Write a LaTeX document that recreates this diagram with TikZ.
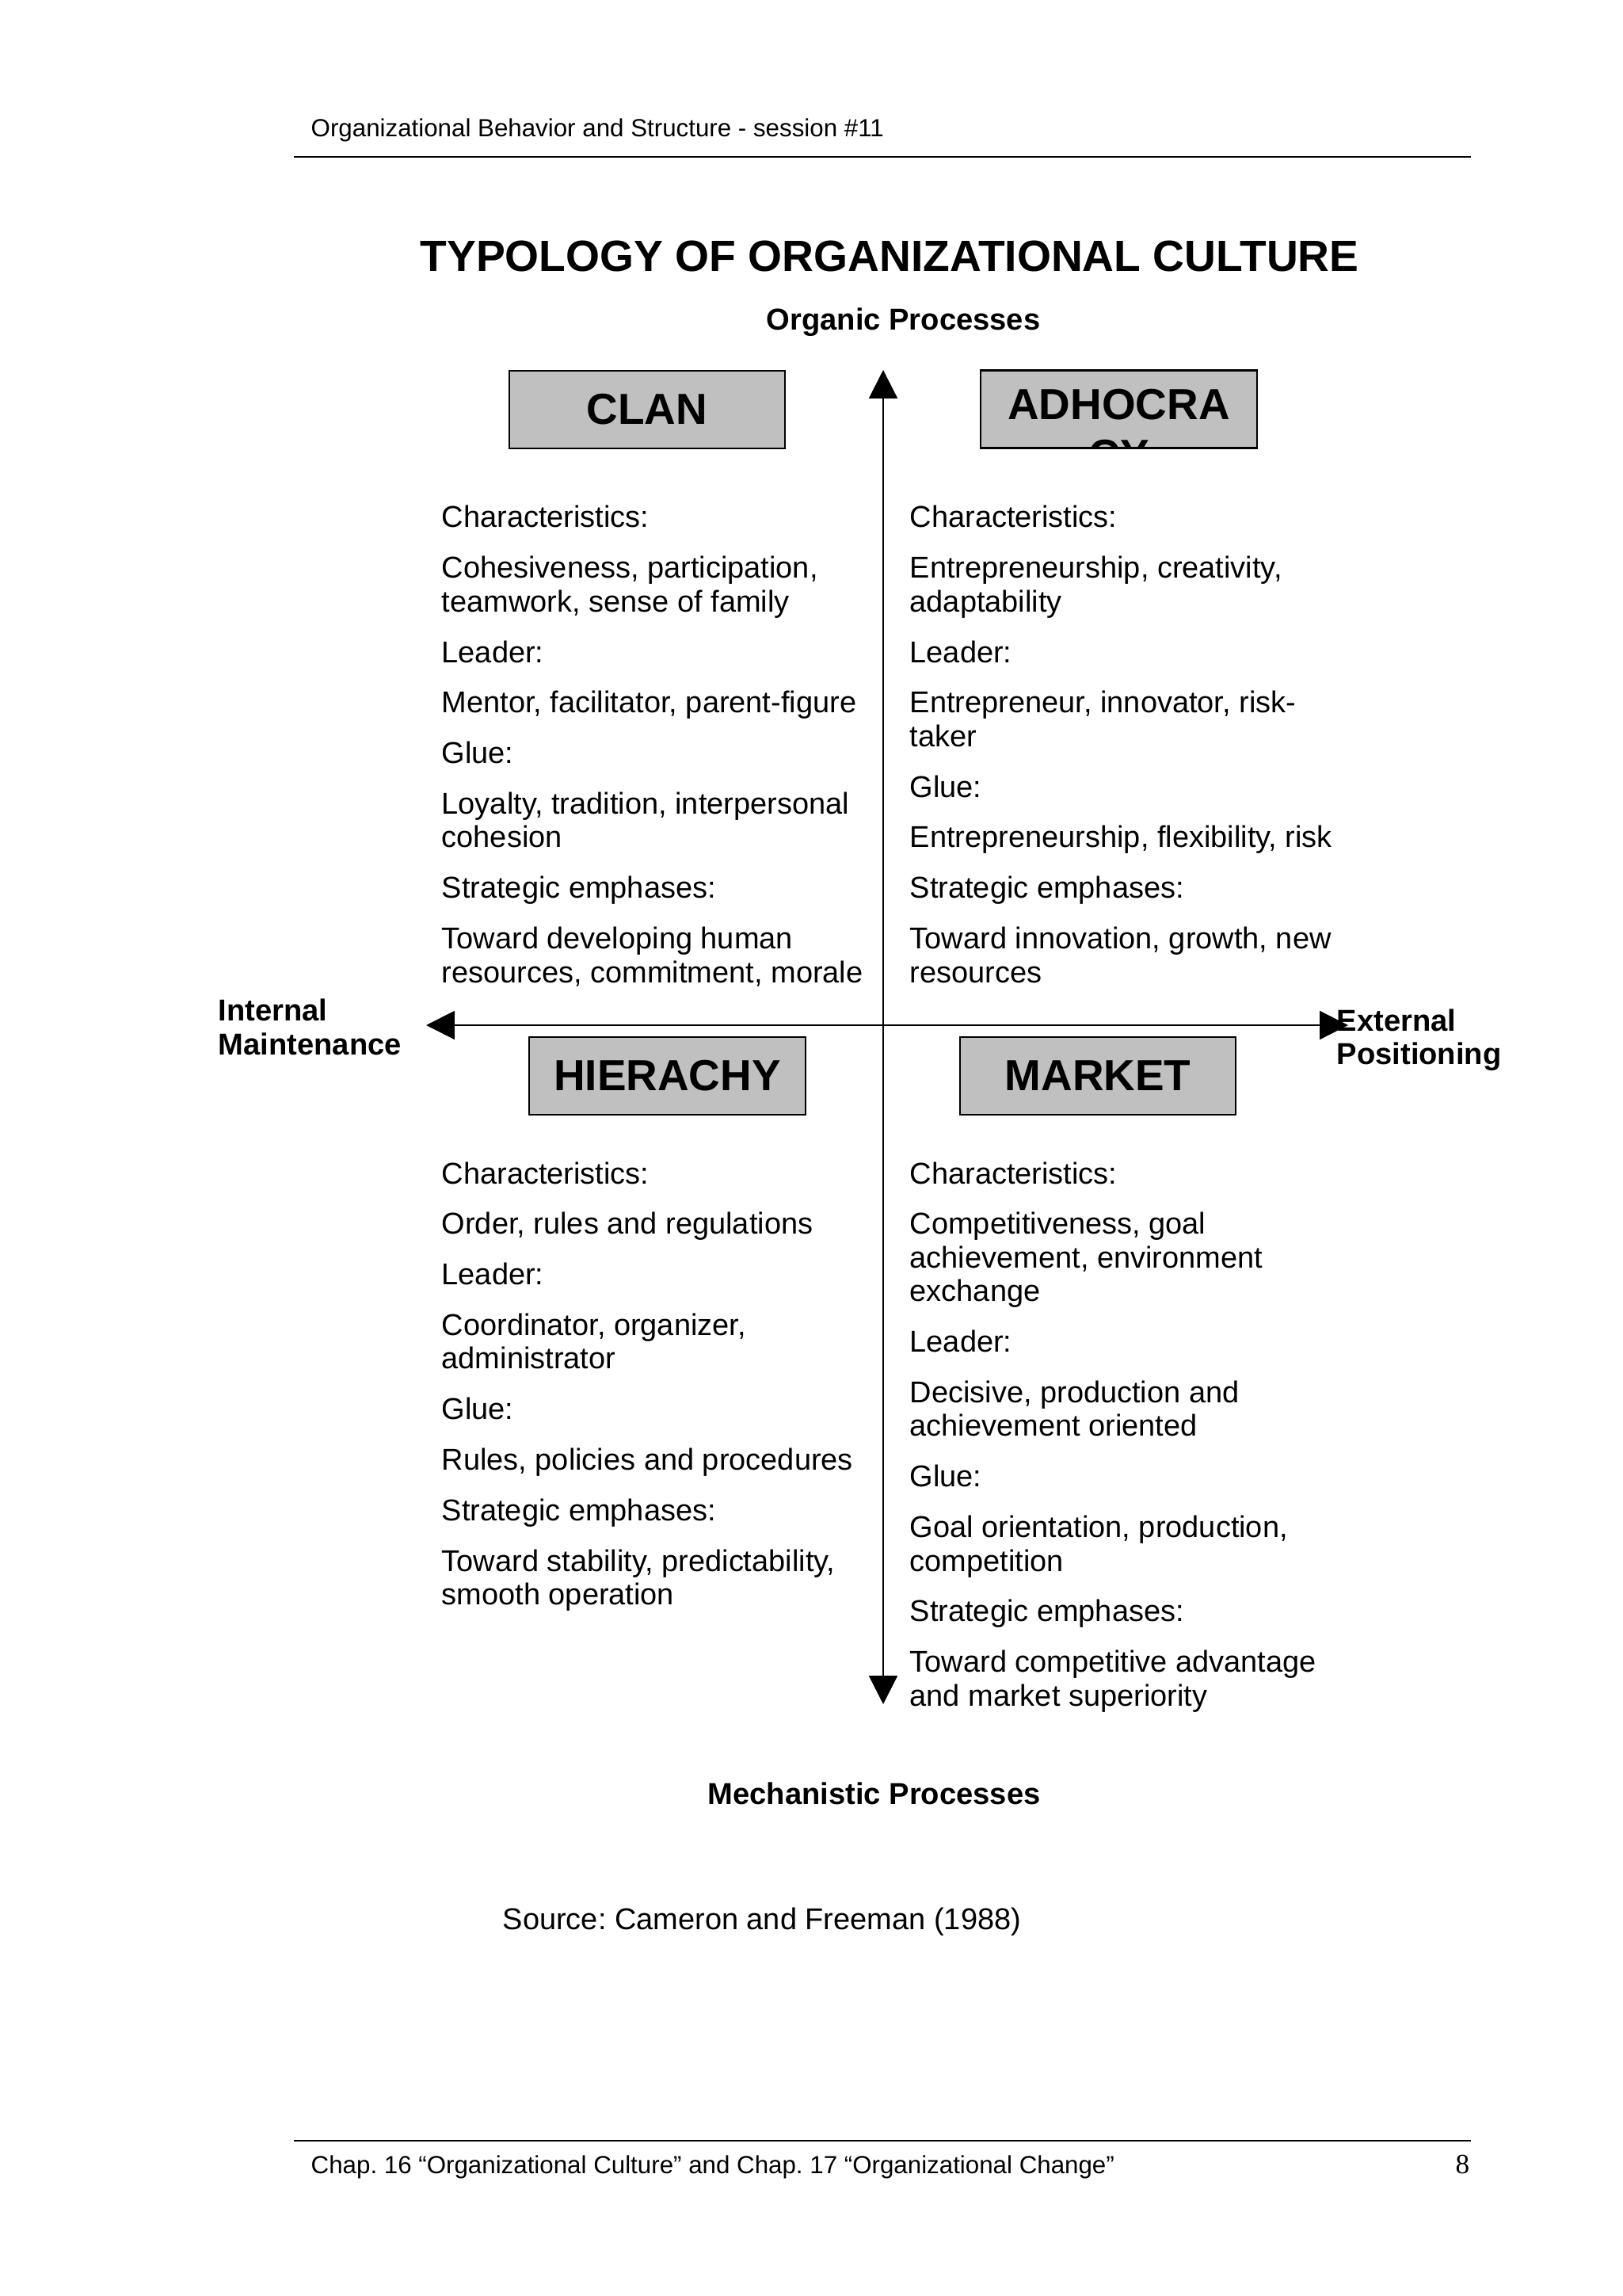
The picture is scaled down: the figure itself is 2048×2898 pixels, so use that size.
\documentclass[tikz,border=0pt]{standalone}
\usepackage{fontspec}
\setmainfont{Liberation Sans}
\newfontfamily\serifpn{Liberation Serif}
\usetikzlibrary{arrows.meta}
\definecolor{boxgray}{HTML}{C0C0C0}
\frenchspacing
\tikzset{
  body/.style={anchor=base west, inner sep=0pt, font=\fontsize{10.8}{12}\selectfont},
  lbl/.style={anchor=base west, inner sep=0pt, font=\fontsize{10.85}{12}\selectfont\bfseries},
  small/.style={anchor=base west, inner sep=0pt, font=\fontsize{8.9}{10}\selectfont},
  typebox/.style={draw=black, line width=0.6pt, fill=boxgray, minimum width=3.48cm, minimum height=0.98cm, inner sep=0pt, outer sep=0pt, font=\fontsize{15.6}{18}\selectfont\bfseries},
  axis/.style={line width=0.6pt, {Triangle[width=10.2pt,length=10.2pt]}-{Triangle[width=10.2pt,length=10.2pt]}},
  rule/.style={line width=0.6pt}
}
\def\LS{-0.425cm}
\def\PS{-0.6375cm}
\begin{document}
\begin{tikzpicture}[x=0.01cm,y=-0.01cm]
\useasboundingbox[fill=white] (0,0) rectangle (2048,2898);

% header and footer
\node[small] (hdr) at (392,173) {Organizational Behavior and Structure - session \#11};
\coordinate (hl1) at (371,198); \coordinate (hl2) at (1857,198);
\draw[rule] (hl1) -- (hl2);
\coordinate (fl1) at (371,2702); \coordinate (fl2) at (1857,2702);
\draw[rule] (fl1) -- (fl2);
\node[small] (ftr) at (392,2743) {Chap. 16 “Organizational Culture” and Chap. 17 “Organizational Change”};
\node[anchor=base east, inner sep=0pt, font=\serifpn\fontsize{10}{12}\selectfont] (pg) at (1856,2743) {8};

% title
\node[anchor=base, inner sep=0pt, font=\fontsize{15.7}{18}\selectfont\bfseries] (title) at (1123,343) {TYPOLOGY OF ORGANIZATIONAL CULTURE};
\node[lbl] (org) at (967,417) {Organic Processes};
\node[lbl] (mech) at (893,2277) {Mechanistic Processes};
\node[lbl] (int1) at (275,1288) {Internal};
\node[lbl] (int2) at (275,1331) {Maintenance};

% axes
\coordinate (top) at (1115,467);
\coordinate (bot) at (1115,2151);
\coordinate (lft) at (538,1294);
\coordinate (rgt) at (1702,1294);
\draw[axis] (bot) -- (top);
\draw[axis] (lft) -- (rgt);

\node[lbl] (ext1) at (1687,1301) {External};
\node[lbl] (ext2) at (1687,1343) {Positioning};

% boxes
\node[typebox] (clan) at (817,517) {CLAN};
\node[typebox] (hier) at (842.5,1358) {HIERACHY};
\node[typebox] (mkt) at (1386,1358) {MARKET};
\node[typebox, draw=none] (adh) at (1412.5,516.5) {};
\begin{scope}
  \clip (adh.south west) rectangle (adh.north east);
  \node[anchor=base, inner sep=0pt, font=\fontsize{15.6}{18}\selectfont\bfseries] (adh1) at (1412.5,530) {ADHOCRA};
  \node[anchor=base, inner sep=0pt, font=\fontsize{15.6}{18}\selectfont\bfseries] (adh2) at (1412.5,594) {CY};
\end{scope}
\draw[line width=0.6pt] (adh.south west) rectangle (adh.north east);

% top-left: clan
\node[body] (a1) at (557,666) {Characteristics:};
\node[body] (a2) at ([yshift=\PS]a1.base west) {Cohesiveness, participation,};
\node[body] (a3) at ([yshift=\LS]a2.base west) {teamwork, sense of family};
\node[body] (a4) at ([yshift=\PS]a3.base west) {Leader:};
\node[body] (a5) at ([yshift=\PS]a4.base west) {Mentor, facilitator, parent-figure};
\node[body] (a6) at ([yshift=\PS]a5.base west) {Glue:};
\node[body] (a7) at ([yshift=\PS]a6.base west) {Loyalty, tradition, interpersonal};
\node[body] (a8) at ([yshift=\LS]a7.base west) {cohesion};
\node[body] (a9) at ([yshift=\PS]a8.base west) {Strategic emphases:};
\node[body] (a10) at ([yshift=\PS]a9.base west) {Toward developing human};
\node[body] (a11) at ([yshift=\LS]a10.base west) {resources, commitment, morale};

% top-right: adhocracy
\node[body] (b1) at (1148,666) {Characteristics:};
\node[body] (b2) at ([yshift=\PS]b1.base west) {Entrepreneurship, creativity,};
\node[body] (b3) at ([yshift=\LS]b2.base west) {adaptability};
\node[body] (b4) at ([yshift=\PS]b3.base west) {Leader:};
\node[body] (b5) at ([yshift=\PS]b4.base west) {Entrepreneur, innovator, risk-};
\node[body] (b6) at ([yshift=\LS]b5.base west) {taker};
\node[body] (b7) at ([yshift=\PS]b6.base west) {Glue:};
\node[body] (b8) at ([yshift=\PS]b7.base west) {Entrepreneurship, flexibility, risk};
\node[body] (b9) at ([yshift=\PS]b8.base west) {Strategic emphases:};
\node[body] (b10) at ([yshift=\PS]b9.base west) {Toward innovation, growth, new};
\node[body] (b11) at ([yshift=\LS]b10.base west) {resources};

% bottom-left: hierarchy
\node[body] (c1) at (557,1494) {Characteristics:};
\node[body] (c2) at ([yshift=\PS]c1.base west) {Order, rules and regulations};
\node[body] (c3) at ([yshift=\PS]c2.base west) {Leader:};
\node[body] (c4) at ([yshift=\PS]c3.base west) {Coordinator, organizer,};
\node[body] (c5) at ([yshift=\LS]c4.base west) {administrator};
\node[body] (c6) at ([yshift=\PS]c5.base west) {Glue:};
\node[body] (c7) at ([yshift=\PS]c6.base west) {Rules, policies and procedures};
\node[body] (c8) at ([yshift=\PS]c7.base west) {Strategic emphases:};
\node[body] (c9) at ([yshift=\PS]c8.base west) {Toward stability, predictability,};
\node[body] (c10) at ([yshift=\LS]c9.base west) {smooth operation};

% bottom-right: market
\node[body] (d1) at (1148,1494) {Characteristics:};
\node[body] (d2) at ([yshift=\PS]d1.base west) {Competitiveness, goal};
\node[body] (d3) at ([yshift=\LS]d2.base west) {achievement, environment};
\node[body] (d4) at ([yshift=\LS]d3.base west) {exchange};
\node[body] (d5) at ([yshift=\PS]d4.base west) {Leader:};
\node[body] (d6) at ([yshift=\PS]d5.base west) {Decisive, production and};
\node[body] (d7) at ([yshift=\LS]d6.base west) {achievement oriented};
\node[body] (d8) at ([yshift=\PS]d7.base west) {Glue:};
\node[body] (d9) at ([yshift=\PS]d8.base west) {Goal orientation, production,};
\node[body] (d10) at ([yshift=\LS]d9.base west) {competition};
\node[body] (d11) at ([yshift=\PS]d10.base west) {Strategic emphases:};
\node[body] (d12) at ([yshift=\PS]d11.base west) {Toward competitive advantage};
\node[body] (d13) at ([yshift=\LS]d12.base west) {and market superiority};

% source
\node[body] (src) at (634,2435) {Source: Cameron and Freeman (1988)};
\end{tikzpicture}
\end{document}
